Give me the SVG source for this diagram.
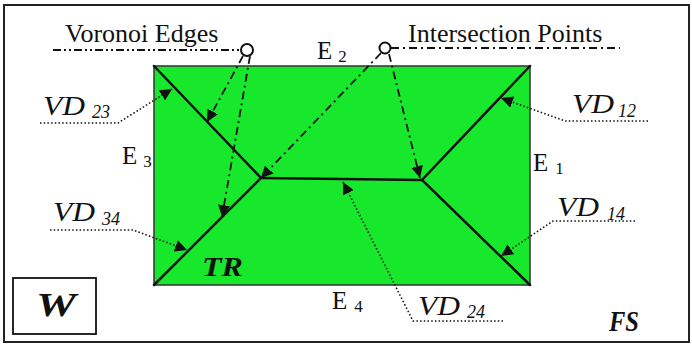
<svg xmlns="http://www.w3.org/2000/svg" width="692" height="345" viewBox="0 0 692 345">
<style>
text{font-family:'Liberation Serif','DejaVu Serif',serif;fill:#111}
.lbl{font-size:26px}
.e{font-size:25px}
.sub{font-size:17px}
.vd{font-style:italic;font-size:27px}
.vdsub{font-style:italic;font-size:18px}
.script{font-style:italic;font-weight:bold}
.dot{fill:none;stroke:#111;stroke-width:1.6;stroke-dasharray:1.5 2.2}
.dd{fill:none;stroke:#111;stroke-width:1.8;stroke-dasharray:8 4 2 4}
.vor{fill:none;stroke:#111;stroke-width:2.5;stroke-linecap:round}
</style>
<defs>
<marker id="ah2" viewBox="0 0 10 10" refX="10" refY="5" markerWidth="12" markerHeight="12" markerUnits="userSpaceOnUse" orient="auto">
<path d="M0,0 L10,5 L0,10 z" fill="#111"/>
</marker>
</defs>
<rect x="4" y="5" width="685" height="337" fill="#fff" stroke="#222" stroke-width="2"/>

<g id="region-FS">
<rect x="154" y="66" width="376" height="219" fill="#17e82b" stroke="#333" stroke-width="1.5"/>
</g>

<g id="voronoi-edges-lines">
<polyline class="vor" points="154,66 261,178 154,285"/>
<line class="vor" x1="261" y1="178" x2="422" y2="180"/>
<polyline class="vor" points="530,66 422,180 530,285"/>
</g>

<g id="label-voronoi-edges">
<text class="lbl" x="65" y="42">Voronoi Edges</text>
<line class="dd" x1="53" y1="50" x2="240" y2="50" style="stroke-dasharray:8 3 2 3 2 3"/>
<circle cx="247" cy="50" r="6" fill="#fff" stroke="#111" stroke-width="2"/>
</g>

<g id="label-intersection-points">
<text class="lbl" x="408" y="42">Intersection Points</text>
<line class="dd" x1="391" y1="48" x2="620" y2="48"/>
<circle cx="385" cy="48" r="5.5" fill="#fff" stroke="#111" stroke-width="2"/>
</g>

<g id="connectors">
<line class="dd" x1="243" y1="56" x2="207" y2="122" marker-end="url(#ah2)"/>
<line class="dd" x1="250" y1="56" x2="222" y2="217" marker-end="url(#ah2)"/>
<line class="dd" x1="381" y1="53" x2="261" y2="178" marker-end="url(#ah2)"/>
<line class="dd" x1="389" y1="54" x2="420" y2="178" marker-end="url(#ah2)"/>
<polyline class="dot" points="40,123 118,123 172,89" marker-end="url(#ah2)"/>
<polyline class="dot" points="648,121 565,121 501,98" marker-end="url(#ah2)"/>
<polyline class="dot" points="50,230 133,230 187,250" marker-end="url(#ah2)"/>
<polyline class="dot" points="635,221 553,221 501,256" marker-end="url(#ah2)"/>
<polyline class="dot" points="503,321 413,321 343,182" marker-end="url(#ah2)"/>
</g>

<g id="edge-labels">
<text class="e" x="317" y="59">E<tspan class="sub" dx="6" dy="3">2</tspan></text>
<text class="e" x="122" y="164">E<tspan class="sub" dx="6" dy="3">3</tspan></text>
<text class="e" x="533" y="171">E<tspan class="sub" dx="7" dy="3">1</tspan></text>
<text class="e" x="332" y="309">E<tspan class="sub" dx="7" dy="3">4</tspan></text>
</g>

<g id="vd-labels">
<text class="vd" x="43" y="115" textLength="42" lengthAdjust="spacingAndGlyphs">VD</text>
<text class="vdsub" x="92" y="118">23</text>
<text class="vd" x="572" y="113" textLength="42" lengthAdjust="spacingAndGlyphs">VD</text>
<text class="vdsub" x="618" y="117">12</text>
<text class="vd" x="53" y="221" textLength="42" lengthAdjust="spacingAndGlyphs">VD</text>
<text class="vdsub" x="102" y="225">34</text>
<text class="vd" x="557" y="216" textLength="42" lengthAdjust="spacingAndGlyphs">VD</text>
<text class="vdsub" x="607" y="220">14</text>
<text class="vd" x="418" y="315" textLength="42" lengthAdjust="spacingAndGlyphs">VD</text>
<text class="vdsub" x="467" y="318">24</text>
</g>

<g id="label-TR">
<text class="script" x="202" y="276" font-size="28" textLength="41" lengthAdjust="spacingAndGlyphs">TR</text>
</g>

<g id="legend-W">
<rect x="13" y="278" width="83" height="56" fill="#fff" stroke="#111" stroke-width="1.8"/>
<text class="script" x="36" y="316" font-size="34" textLength="40" lengthAdjust="spacingAndGlyphs">W</text>
</g>

<g id="label-FS">
<text class="script" x="609" y="331" font-size="29" textLength="30" lengthAdjust="spacingAndGlyphs">FS</text>
</g>
</svg>
